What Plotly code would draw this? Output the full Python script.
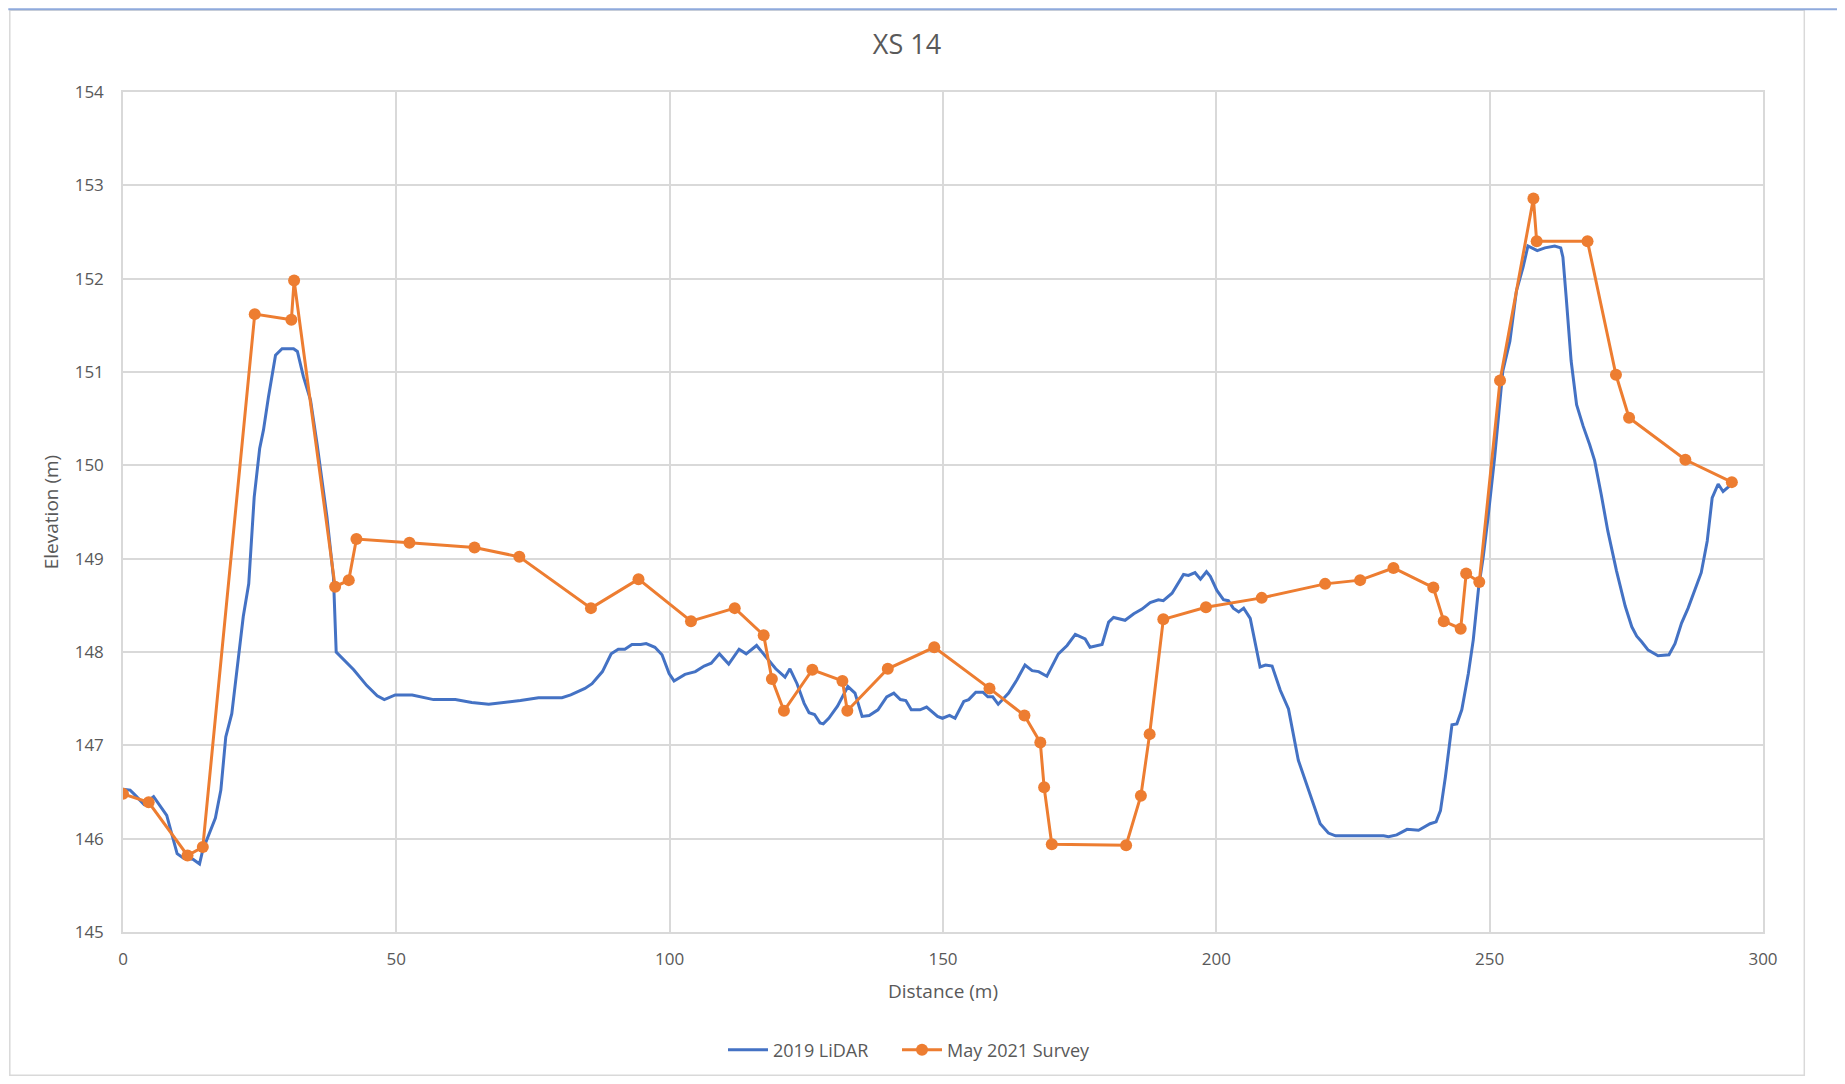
import plotly.graph_objects as go

# ---- data ----
lidar_x = [0, 1.3, 2.0, 3.8, 5.6, 8.0, 9.9, 11.1, 12.8, 14.0, 14.6, 16.9, 17.9, 18.8, 19.9, 20.9, 22.0, 23.0,
           24.0, 25.0, 25.7, 26.6, 27.9, 29.1, 31.2, 31.9, 33.0, 34.3, 35.5, 37.3, 38.5, 39.0, 42.2, 44.6,
           46.5, 47.8, 49.8, 52.9, 56.8, 60.8, 63.8, 66.9, 69.9, 72.7, 76.0, 80.3, 81.9, 82.9, 84.5, 85.8,
           87.7, 89.3, 90.6, 91.8, 93.1, 94.7, 95.7, 97.3, 98.6, 99.9, 100.8, 102.8, 104.7, 106.3, 107.6,
           109.1, 110.8, 112.7, 114.0, 115.9, 117.5, 119.4, 121.1, 122.0, 123.3, 124.6, 125.5, 126.5, 127.5,
           128.1, 129.1, 130.7, 132.6, 133.9, 135.2, 136.5, 138.1, 139.7, 141.0, 142.2, 143.2, 144.2, 145.8,
           147.0, 149.0, 149.9, 151.2, 152.2, 153.8, 154.7, 156.0, 157.3, 158.2, 159.1, 160.1, 162.0, 163.5,
           165.0, 166.3, 167.5, 169.0, 171.1, 172.7, 174.2, 176.0, 176.9, 179.1, 180.3, 181.2, 183.3, 184.9,
           186.4, 187.9, 189.4, 190.3, 191.9, 194.0, 194.9, 196.1, 197.1, 198.2, 198.9, 200.1, 201.3, 202.2,
           203.1, 204.1, 205.0, 206.2, 208.0, 209.0, 210.2, 211.7, 213.2, 215.0, 216.9, 219.0, 220.5, 221.8,
           230.6, 231.5, 233.0, 234.9, 237.0, 239.1, 240.2, 241.0, 241.9, 243.1, 244.0, 244.9, 246.1, 247.0,
           248.0, 248.8, 249.7, 250.9, 252.4, 253.7, 254.9, 256.1, 257.0, 258.7, 260.1, 261.9, 263.0, 263.4,
           264.0, 264.9, 265.9, 267.1, 268.3, 269.2, 270.4, 271.6, 273.2, 274.8, 276.0, 276.9, 277.8, 279.0,
           280.8, 282.8, 283.9, 285.1, 286.3, 287.8, 288.7, 289.8, 290.7, 291.8, 292.7, 293.9]
lidar_y = [146.53, 146.52, 146.48, 146.37, 146.45, 146.25, 145.84, 145.79, 145.78, 145.73, 145.88, 146.22,
           146.52, 147.09, 147.34, 147.84, 148.38, 148.73, 149.66, 150.18, 150.38, 150.73, 151.18, 151.25,
           151.25, 151.22, 150.95, 150.70, 150.23, 149.45, 148.80, 148.00, 147.81, 147.64, 147.53, 147.49,
           147.54, 147.54, 147.49, 147.49, 147.46, 147.44, 147.46, 147.48, 147.51, 147.51, 147.54, 147.57,
           147.61, 147.66, 147.79, 147.98, 148.03, 148.03, 148.08, 148.08, 148.09, 148.05, 147.97, 147.77,
           147.69, 147.76, 147.79, 147.85, 147.88, 147.98, 147.87, 148.03, 147.98, 148.07, 147.95, 147.82,
           147.73, 147.82, 147.66, 147.45, 147.35, 147.33, 147.24, 147.23, 147.29, 147.42, 147.63, 147.56,
           147.31, 147.32, 147.38, 147.52, 147.56, 147.49, 147.48, 147.38, 147.38, 147.41, 147.31, 147.29,
           147.32, 147.29, 147.47, 147.49, 147.57, 147.57, 147.52, 147.52, 147.44, 147.56, 147.70, 147.86,
           147.80, 147.79, 147.74, 147.98, 148.07, 148.19, 148.14, 148.05, 148.08, 148.32, 148.37, 148.34,
           148.41, 148.46, 148.53, 148.56, 148.55, 148.63, 148.83, 148.82, 148.85, 148.78, 148.86, 148.81,
           148.66, 148.56, 148.55, 148.47, 148.43, 148.47, 148.36, 147.84, 147.86, 147.85, 147.59, 147.39,
           146.84, 146.52, 146.16, 146.06, 146.03, 146.03, 146.02, 146.04, 146.10, 146.09, 146.16, 146.18,
           146.30, 146.66, 147.22, 147.23, 147.38, 147.77, 148.13, 148.70, 149.01, 149.44, 150.08, 151.01,
           151.33, 151.87, 152.12, 152.35, 152.30, 152.33, 152.35, 152.33, 152.23, 151.80, 151.12, 150.65,
           150.42, 150.22, 150.05, 149.69, 149.30, 148.87, 148.49, 148.27, 148.17, 148.11, 148.02, 147.96,
           147.97, 148.09, 148.31, 148.47, 148.70, 148.85, 149.19, 149.65, 149.80, 149.72, 149.78]

survey_x = [0, 4.7, 11.8, 14.6, 24.1, 30.8, 31.3, 38.8, 41.3, 42.7, 52.4, 64.3, 72.5, 85.6, 94.3, 103.9,
            111.9, 117.2, 118.7, 120.9, 126.1, 131.6, 132.5, 139.9, 148.4, 158.5, 164.9, 167.8, 168.5, 169.9,
            183.5, 186.2, 187.8, 190.3, 198.1, 208.3, 219.9, 226.3, 232.4, 239.7, 241.6, 244.7, 245.7, 248.1,
            251.9, 258.0, 258.6, 267.9, 273.1, 275.5, 285.8, 294.3]
survey_y = [146.48, 146.39, 145.82, 145.91, 151.62, 151.56, 151.98, 148.70, 148.77, 149.21, 149.17, 149.12,
            149.02, 148.47, 148.78, 148.33, 148.47, 148.18, 147.71, 147.37, 147.81, 147.69, 147.37, 147.82,
            148.05, 147.61, 147.32, 147.03, 146.55, 145.94, 145.93, 146.46, 147.12, 148.35, 148.48, 148.58,
            148.73, 148.77, 148.90, 148.69, 148.33, 148.25, 148.84, 148.75, 150.91, 152.86, 152.40, 152.40,
            150.97, 150.51, 150.06, 149.82]

title_text = "XS 14"
x_title = "Distance (m)"
y_title = "Elevation (m)"
series_names = ["2019 LiDAR", "May 2021 Survey"]

BLUE = "#4472C4"
ORANGE = "#ED7D31"
GRID = "#D9D9D9"
TXT = "#595959"
FONT = "Open Sans"

# page offset (default body margin) -> figure placed at (8, 8)
OFF = 8
W, H = 1845 - 2 * OFF, 1084 - 2 * OFF
# target plot area in page pixels
PL, PR, PT, PB = 122.7, 1762.7, 91.7, 931.7
L, R, T, B = PL - OFF, (OFF + W) - PR, PT - OFF, (OFF + H) - PB
pw, ph = PR - PL, PB - PT


def px(X):
    return (X - PL) / pw


def py(Y):
    return (PB - Y) / ph


def cx(X):
    return (X - OFF) / W


def cy(Y):
    return 1 - (Y - OFF) / H


fig = go.Figure()
fig.add_trace(go.Scatter(x=lidar_x, y=lidar_y, mode="lines", name=series_names[0],
                         line=dict(color=BLUE, width=3), legend="legend"))
fig.add_trace(go.Scatter(x=survey_x, y=survey_y, mode="lines+markers", name=series_names[1],
                         line=dict(color=ORANGE, width=3),
                         marker=dict(color=ORANGE, size=12, line=dict(width=0)), legend="legend2"))

legend_common = dict(orientation="h", xref="container", yref="container", xanchor="left",
                     yanchor="middle", y=cy(1050), font=dict(size=18, color=TXT, family=FONT),
                     itemwidth=40, bgcolor="rgba(0,0,0,0)")

fig.update_layout(
    width=W, height=H,
    margin=dict(l=L, r=R, t=T, b=B, pad=0, autoexpand=False),
    paper_bgcolor="white", plot_bgcolor="white",
    font=dict(family=FONT, color=TXT, size=17),
    title=dict(text=title_text, x=cx(907), xref="container", xanchor="center",
               y=cy(45), yref="container", yanchor="middle",
               font=dict(size=27, color=TXT, family=FONT)),
    showlegend=True,
    legend=dict(x=cx(723), **legend_common),
    legend2=dict(x=cx(897), **legend_common),
    xaxis=dict(range=[0, 300], dtick=50, tick0=0, showgrid=True, gridcolor=GRID, gridwidth=1.5,
               zeroline=False, showline=True, linecolor=GRID, linewidth=1.5, mirror=True,
               ticks="", ticklabelstandoff=11, automargin=False,
               title=dict(text=x_title, font=dict(size=19, color=TXT, family=FONT), standoff=16)),
    yaxis=dict(range=[145, 154], dtick=1, tick0=145, showgrid=True, gridcolor=GRID, gridwidth=1.5,
               zeroline=False, showline=True, linecolor=GRID, linewidth=1.5, mirror=True,
               ticks="", ticklabelstandoff=14, automargin=False,
               title=dict(text=y_title, font=dict(size=19, color=TXT, family=FONT), standoff=11)),
)

# chart-area border and top selection line
fig.add_shape(type="rect", xref="paper", yref="paper",
              x0=px(9.5), x1=px(1804), y0=py(1075), y1=py(10),
              line=dict(color=GRID, width=1.5), fillcolor="rgba(0,0,0,0)", layer="below")
fig.add_shape(type="line", xref="paper", yref="paper",
              x0=px(OFF), x1=px(OFF + W), y0=py(9), y1=py(9),
              line=dict(color="#8FAADC", width=2))

fig.write_html("out.html")
